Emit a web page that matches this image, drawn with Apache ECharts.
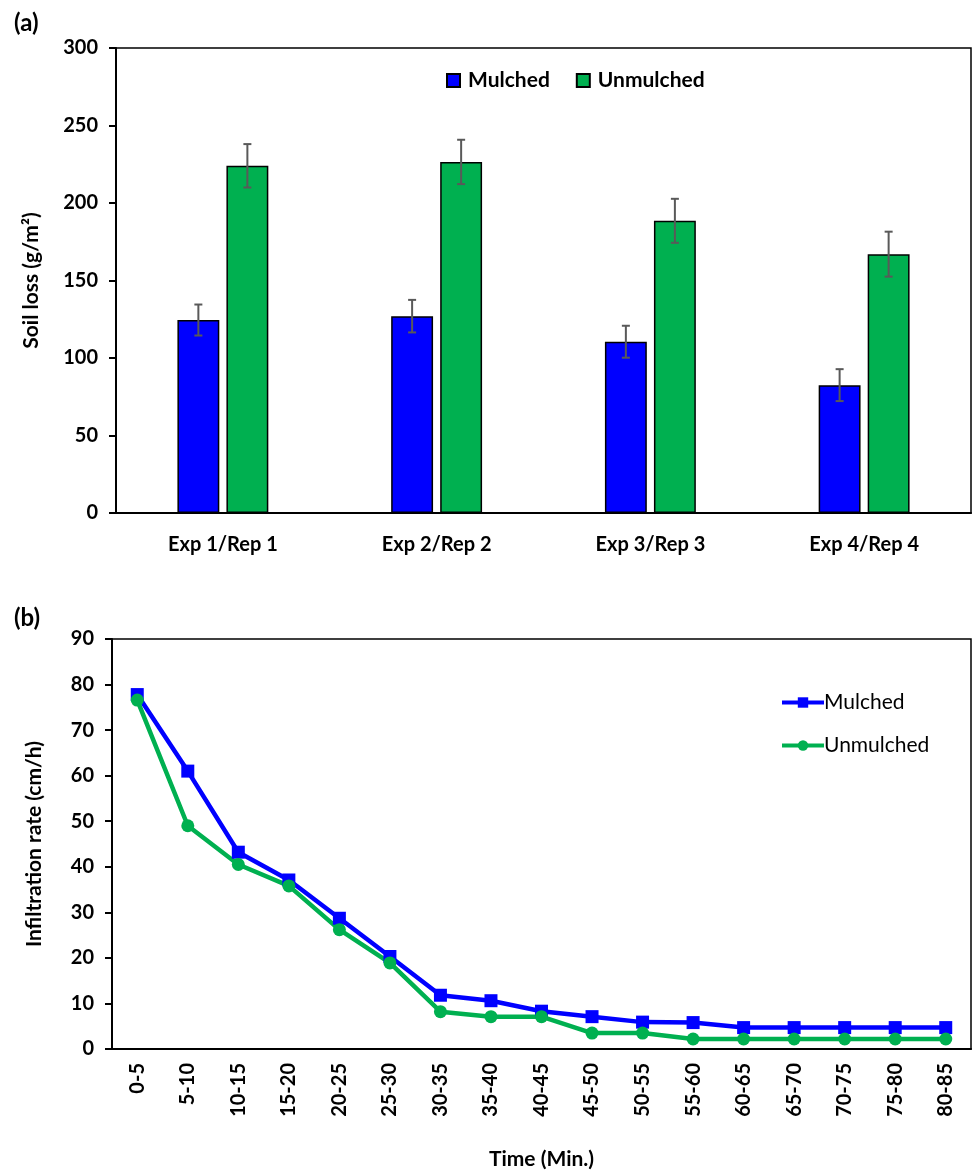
<!DOCTYPE html>
<html><head><meta charset="utf-8">
<script src="https://cdn.jsdelivr.net/npm/echarts@6/dist/echarts.min.js"></script>
<style>html,body{margin:0;padding:0;background:#fff}#c{width:973px;height:1171px}</style>
</head><body><div id="c"></div>
<script>
// Panel (a) data
const expCategories = ['Exp 1/Rep 1', 'Exp 2/Rep 2', 'Exp 3/Rep 3', 'Exp 4/Rep 4'];
const soilLossMulched = [124.5, 127, 110.5, 82.5];
const soilLossUnmulched = [224, 226.5, 188.5, 167];
const soilLossMulchedErr = [10, 10.5, 10.3, 10.3];
const soilLossUnmulchedErr = [14, 14.3, 14.2, 14.5];
// Panel (b) data
const timeCategories = ['0-5','5-10','10-15','15-20','20-25','25-30','30-35','35-40','40-45','45-50','50-55','55-60','60-65','65-70','70-75','75-80','80-85'];
const infilMulched = [77.8, 61, 43.2, 37.1, 28.7, 20.3, 11.8, 10.6, 8.3, 7.1, 5.9, 5.8, 4.7, 4.7, 4.7, 4.7, 4.7];
const infilUnmulched = [76.6, 49, 40.5, 35.8, 26.2, 18.9, 8.2, 7.1, 7.1, 3.5, 3.5, 2.2, 2.2, 2.2, 2.2, 2.2, 2.2];

const FONT = 'Lato';
const BAR_W = 0.196, BAR_GAP = 0.17;

function errRender(sign, errs, vals) {
  return function (params, api) {
    const i = api.value(0);
    const band = api.size([1, 0])[0];
    const bw = band * BAR_W;
    const off = sign * (bw + bw * BAR_GAP) / 2;
    const c = api.coord([i, vals[i]]);
    const x = c[0] + off;
    const top = api.coord([i, vals[i] + errs[i]])[1];
    const bot = api.coord([i, vals[i] - errs[i]])[1];
    const cap = 4;
    const st = { stroke: '#595959', lineWidth: 2 };
    return { type: 'group', children: [
      { type: 'line', shape: { x1: x, y1: top, x2: x, y2: bot }, style: st },
      { type: 'line', shape: { x1: x - cap, y1: top, x2: x + cap, y2: top }, style: st },
      { type: 'line', shape: { x1: x - cap, y1: bot, x2: x + cap, y2: bot }, style: st }
    ]};
  };
}

const chart = echarts.init(document.getElementById('c'), null, { renderer: 'canvas' });
const axisLbl = { color: '#000', fontFamily: FONT, fontWeight: 'bold', fontSize: 20 };
chart.setOption({
  animation: false,
  backgroundColor: '#fff',
  textStyle: { fontFamily: FONT },
  title: [
    { text: '(a)', left: 9, top: 6, textStyle: { fontFamily: FONT, fontWeight: 'bold', fontSize: 24, color: '#000' } },
    { text: '(b)', left: 9, top: 601, textStyle: { fontFamily: FONT, fontWeight: 'bold', fontSize: 24, color: '#000' } }
  ],
  legend: [
    { data: ['Mulched', 'Unmulched'], left: 441, top: 65, icon: 'rect', itemWidth: 13, itemHeight: 13, itemGap: 26,
      textStyle: { fontFamily: FONT, fontWeight: 'bold', fontSize: 21, color: '#000', padding: [0, 0, 0, 3] } },
    { data: ['Mulched ', 'Unmulched '], orient: 'vertical', left: 775, top: 687, itemWidth: 42, itemHeight: 13, itemGap: 22,
      lineStyle: { width: 4 },
      textStyle: { fontFamily: FONT, fontSize: 21, color: '#000', padding: [0, 0, 0, -5] } }
  ],
  grid: [
    { left: 116, top: 48, width: 855, height: 465, show: true, borderColor: '#000', borderWidth: 1.5 },
    { left: 112, top: 639, width: 859, height: 410, show: true, borderColor: '#000', borderWidth: 1.5 }
  ],
  xAxis: [
    { type: 'category', gridIndex: 0, data: expCategories,
      axisLine: { lineStyle: { color: '#000', width: 2 } }, axisTick: { show: false },
      axisLabel: Object.assign({}, axisLbl, { margin: 22 }) },
    { type: 'category', gridIndex: 1, data: timeCategories,
      name: 'Time (Min.)', nameLocation: 'middle', nameGap: 100,
      nameTextStyle: { color: '#000', fontFamily: FONT, fontWeight: 'bold', fontSize: 21 },
      axisLine: { lineStyle: { color: '#000', width: 2 } },
      axisTick: { alignWithLabel: true, length: 5, lineStyle: { color: '#000', width: 2 } },
      axisLabel: Object.assign({}, axisLbl, { rotate: 90, margin: 14 }) }
  ],
  yAxis: [
    { type: 'value', gridIndex: 0, min: 0, max: 300, interval: 50,
      name: 'Soil loss (g/m²)', nameLocation: 'middle', nameGap: 74,
      nameTextStyle: { color: '#000', fontFamily: FONT, fontWeight: 'bold', fontSize: 21 },
      axisLine: { show: true, lineStyle: { color: '#000', width: 2 } },
      axisTick: { show: true, length: 7, lineStyle: { color: '#000', width: 2 } },
      splitLine: { show: false },
      axisLabel: Object.assign({}, axisLbl, { margin: 18 }) },
    { type: 'value', gridIndex: 1, min: 0, max: 90, interval: 10,
      name: 'Infiltration rate (cm/h)', nameLocation: 'middle', nameGap: 67,
      nameTextStyle: { color: '#000', fontFamily: FONT, fontWeight: 'bold', fontSize: 21 },
      axisLine: { show: true, lineStyle: { color: '#000', width: 2 } },
      axisTick: { show: true, length: 7, lineStyle: { color: '#000', width: 2 } },
      splitLine: { show: false },
      axisLabel: Object.assign({}, axisLbl, { margin: 18 }) }
  ],
  series: [
    { name: 'Mulched', type: 'bar', xAxisIndex: 0, yAxisIndex: 0, data: soilLossMulched,
      barWidth: (BAR_W * 100) + '%', barGap: (BAR_GAP * 100) + '%',
      itemStyle: { color: '#0000ff', borderColor: '#000', borderWidth: 1.5 } },
    { name: 'Unmulched', type: 'bar', xAxisIndex: 0, yAxisIndex: 0, data: soilLossUnmulched,
      barWidth: (BAR_W * 100) + '%', barGap: (BAR_GAP * 100) + '%',
      itemStyle: { color: '#00b050', borderColor: '#000', borderWidth: 1.5 } },
    { type: 'custom', xAxisIndex: 0, yAxisIndex: 0, z: 10,
      data: soilLossMulched.map((v, i) => [i, v]), renderItem: errRender(-1, soilLossMulchedErr, soilLossMulched) },
    { type: 'custom', xAxisIndex: 0, yAxisIndex: 0, z: 10,
      data: soilLossUnmulched.map((v, i) => [i, v]), renderItem: errRender(1, soilLossUnmulchedErr, soilLossUnmulched) },
    { name: 'Mulched ', type: 'line', xAxisIndex: 1, yAxisIndex: 1, data: infilMulched,
      symbol: 'rect', symbolSize: 13, lineStyle: { color: '#0000ff', width: 4.5 }, itemStyle: { color: '#0000ff' } },
    { name: 'Unmulched ', type: 'line', xAxisIndex: 1, yAxisIndex: 1, data: infilUnmulched,
      symbol: 'circle', symbolSize: 13, lineStyle: { color: '#00b050', width: 4.5 }, itemStyle: { color: '#00b050' } }
  ]
});
</script></body></html>
